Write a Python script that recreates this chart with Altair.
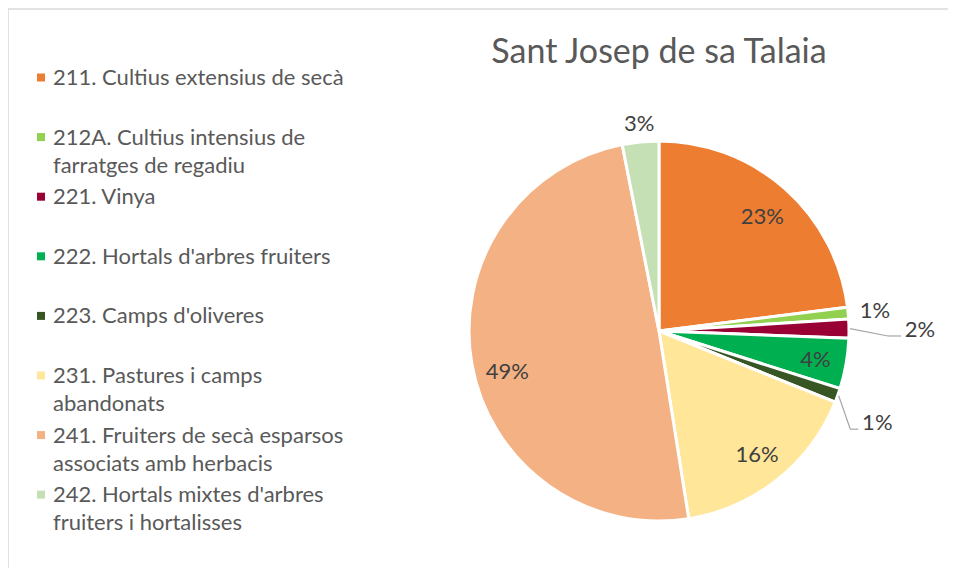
import altair as alt
import pandas as pd

title_text = "Sant Josep de sa Talaia"
categories = [
    "211. Cultius extensius de secà",
    "212A. Cultius intensius de farratges de regadiu",
    "221. Vinya",
    "222. Hortals d'arbres fruiters",
    "223. Camps d'oliveres",
    "231. Pastures i camps abandonats",
    "241. Fruiters de secà esparsos associats amb herbacis",
    "242. Hortals mixtes d'arbres fruiters i hortalisses",
]
legend_lines = [
    ["211. Cultius extensius de secà"],
    ["212A. Cultius intensius de", "farratges de regadiu"],
    ["221. Vinya"],
    ["222. Hortals d'arbres fruiters"],
    ["223. Camps d'oliveres"],
    ["231. Pastures i camps", "abandonats"],
    ["241. Fruiters de secà esparsos", "associats amb herbacis"],
    ["242. Hortals mixtes d'arbres", "fruiters i hortalisses"],
]
shares = [23.0, 1.0, 1.6, 4.3, 1.2, 16.4, 49.4, 3.1]
colors = ["#ED7D31", "#92D050", "#990033", "#00B050", "#375623", "#FFE699", "#F4B183", "#C5E0B4"]

# layout (not data)
W, H = 940, 560
CX, CY, R = 651, 323, 190
FONT = "Lato"
label_r = "[154, 217, 261, 159, 237, 158, 157, 208]"
label_da = "[0.7, 0, 0.5, 0.6, 3.1, 0.2, -5, 0.1]"
leader_idx = [2, 4]

df = pd.DataFrame({
    "idx": list(range(len(categories))),
    "cat": categories,
    "share": shares,
    "lines": legend_lines,
})

base = alt.Chart(df)

pie = base.mark_arc(radius=R, stroke="white", strokeWidth=3).encode(
    theta=alt.Theta("share:Q", stack=True),
    color=alt.Color("cat:N", scale=alt.Scale(domain=categories, range=colors), legend=None),
    order=alt.Order("idx:Q"),
    x=alt.value(CX),
    y=alt.value(CY),
)

lab = base.transform_joinaggregate(total="sum(share)").transform_window(
    cum="sum(share)", sort=[alt.SortField("idx")], frame=[None, 0]
).transform_calculate(
    mid="(datum.cum - datum.share/2) / datum.total * 2 * PI + " + label_da + "[datum.idx] * PI / 180",
    midraw="(datum.cum - datum.share/2) / datum.total * 2 * PI",
    r=label_r + "[datum.idx]",
    lx=f"{CX} + datum.r * sin(datum.mid)",
    ly=f"{CY} - datum.r * cos(datum.mid)",
    pct="format(datum.share / datum.total, '.0%')",
)

labels = lab.mark_text(font=FONT, fontSize=22, color="#404040", align="center", baseline="middle").encode(
    x=alt.X("lx:Q", scale=None),
    y=alt.Y("ly:Q", scale=None),
    text="pct:N",
)

lead = lab.transform_filter(
    alt.FieldOneOfPredicate(field="idx", oneOf=leader_idx)
).transform_calculate(
    sx=f"{CX} + {R + 1} * sin(datum.midraw)",
    sy=f"{CY} - {R + 1} * cos(datum.midraw)",
    ex="datum.lx - 19",
    ey="datum.ly + 6",
    bx="datum.lx - 19 - (datum.idx == 2 ? 13 : 8)",
)
lead1 = lead.mark_rule(color="#A6A6A6", strokeWidth=1.2).encode(
    x=alt.X("sx:Q", scale=None), y=alt.Y("sy:Q", scale=None),
    x2="bx:Q", y2="ey:Q",
)
lead2 = lead.mark_rule(color="#A6A6A6", strokeWidth=1.2).encode(
    x=alt.X("bx:Q", scale=None), y=alt.Y("ey:Q", scale=None),
    x2="ex:Q", y2="ey:Q",
)

ysc = alt.Scale(domain=[0, 7], range=[69.5, 486.7])
leg_sym = base.mark_square(size=64, opacity=1).encode(
    x=alt.value(33),
    y=alt.Y("idx:Q", scale=ysc, axis=None),
    color=alt.Color("cat:N", scale=alt.Scale(domain=categories, range=colors), legend=None),
)
leg_txt = base.mark_text(font=FONT, fontSize=22, color="#595959", align="left",
                         baseline="alphabetic", lineHeight=28, dy=7.5).encode(
    x=alt.value(45),
    y=alt.Y("idx:Q", scale=ysc, axis=None),
    text="lines",
)

title = alt.Chart(pd.DataFrame({"t": [title_text]})).mark_text(
    font=FONT, fontSize=34, color="#595959", align="center", baseline="alphabetic"
).encode(x=alt.value(CX), y=alt.value(55), text="t:N")

frame_df = pd.DataFrame({"k": [0]})
border_v = alt.Chart(frame_df).mark_rule(color="#D9D9D9", strokeWidth=1.5).encode(
    x=alt.value(0), y=alt.value(1), y2=alt.value(H))
border_h = alt.Chart(frame_df).mark_rule(color="#D9D9D9", strokeWidth=1.5).encode(
    x=alt.value(0), x2=alt.value(W), y=alt.value(1))

chart = alt.layer(border_v, border_h, pie, lead1, lead2, labels, leg_sym, leg_txt, title).resolve_scale(
    x="independent", y="independent"
).properties(
    width=W, height=H, autosize="none", padding=0, background="white"
).configure_view(stroke=None)

chart.save("out.html", embed_options={"renderer": "svg", "actions": False})
